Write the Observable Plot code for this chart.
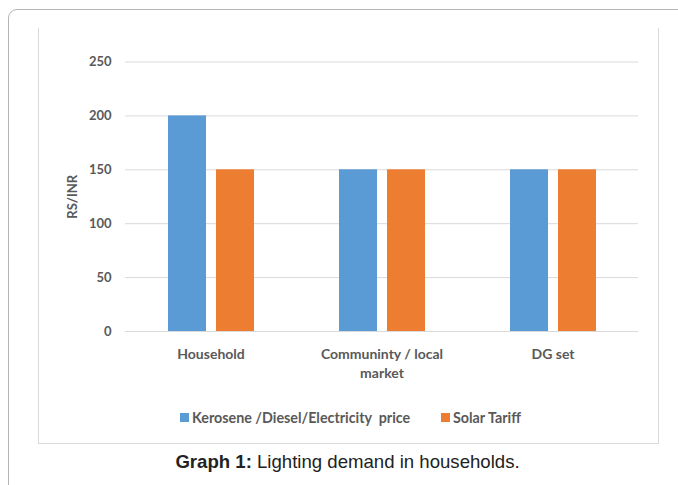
<!DOCTYPE html>
<html>
<head>
<meta charset="utf-8">
<script src="https://cdn.jsdelivr.net/npm/d3@7"></script>
<script src="https://cdn.jsdelivr.net/npm/@observablehq/plot@0.6"></script>
<style>
  body { margin: 0; background: #fff; }
  #wrap { position: relative; width: 678px; height: 485px; overflow: hidden; background: #fff; }
  #outer { position: absolute; left: 8px; top: 9px; width: 720px; height: 520px; border: 1px solid #b5b5b5; border-radius: 9px; box-sizing: border-box; }
  #inner { position: absolute; left: 38px; top: 28px; width: 621px; height: 416px; border-left: 1px solid #d9d9d9; border-right: 1px solid #d9d9d9; border-bottom: 1px solid #d9d9d9; box-sizing: border-box; }
  #chart { position: absolute; left: 0; top: 0; }
  #legend { position: absolute; top: 409px; left: 0; width: 678px; font-family: Lato, sans-serif; font-weight: bold; font-size: 14.3px; color: #595959; }
  .item { position: absolute; display: flex; align-items: center; white-space: pre; }
  .sw { width: 9px; height: 9px; margin-right: 3px; }
  #caption { position: absolute; top: 451px; left: 0; width: 678px; padding-left: 17px; box-sizing: border-box; text-align: center; font-family: "Liberation Sans", Arial, sans-serif; font-size: 18.6px; color: #222; }
</style>
</head>
<body>
<div id="wrap">
  <div id="outer"></div>
  <div id="inner"></div>
  <div id="chart"></div>
  <div id="legend"></div>
  <div id="caption"><b>Graph 1:</b> Lighting demand in households.</div>
</div>
<script>
const categories = ["Household", "Communinty / local market", "DG set"];
const categoryLabels = ["Household", "Communinty / local\nmarket", "DG set"];
const series = ["Kerosene /Diesel/Electricity  price", "Solar Tariff"];
const kerosene = [200, 150, 150];
const solar = [150, 150, 150];
const yTicks = [0, 50, 100, 150, 200, 250];
const colors = ["#5B9BD5", "#ED7D31"];

const data = categories.flatMap((c, i) => [
  {category: c, series: series[0], value: kerosene[i]},
  {category: c, series: series[1], value: solar[i]}
]);

const chart = Plot.plot({
  width: 678,
  height: 381,
  marginLeft: 124,
  marginRight: 38.7,
  marginTop: 61.5,
  marginBottom: 50,
  style: {fontFamily: "Lato, sans-serif", fontSize: "13px", fontWeight: "bold", color: "#595959", background: "transparent"},
  fx: {domain: categories, padding: 0, label: null},
  x: {domain: series, paddingInner: 0.211, paddingOuter: 0.866, axis: null},
  y: {domain: [0, 250], ticks: yTicks, label: "RS/INR"},
  color: {domain: series, range: colors},
  marks: [
    Plot.ruleY(yTicks, {stroke: "#d9d9d9", strokeWidth: 1}),
    Plot.barY(data, {fx: "category", x: "series", y: "value", fill: "series"}),
    Plot.axisY(yTicks, {tickSize: 0, tickPadding: 14, label: "RS/INR", labelAnchor: "center", labelArrow: "none", labelOffset: 58, fontSize: 13}),
    Plot.axisFx({anchor: "bottom", tickSize: 0, tickPadding: 14, label: null, fontSize: 14, lineHeight: 1.36,
      tickFormat: d => categoryLabels[categories.indexOf(d)]})
  ]
});
document.getElementById("chart").appendChild(chart);

const legend = document.getElementById("legend");
const lefts = [180, 441];
series.forEach((s, i) => {
  const it = document.createElement("div");
  it.className = "item";
  it.style.left = lefts[i] + "px";
  const sw = document.createElement("span");
  sw.className = "sw";
  sw.style.background = colors[i];
  const t = document.createElement("span");
  t.textContent = s;
  it.appendChild(sw);
  it.appendChild(t);
  legend.appendChild(it);
});
</script>
</body>
</html>
